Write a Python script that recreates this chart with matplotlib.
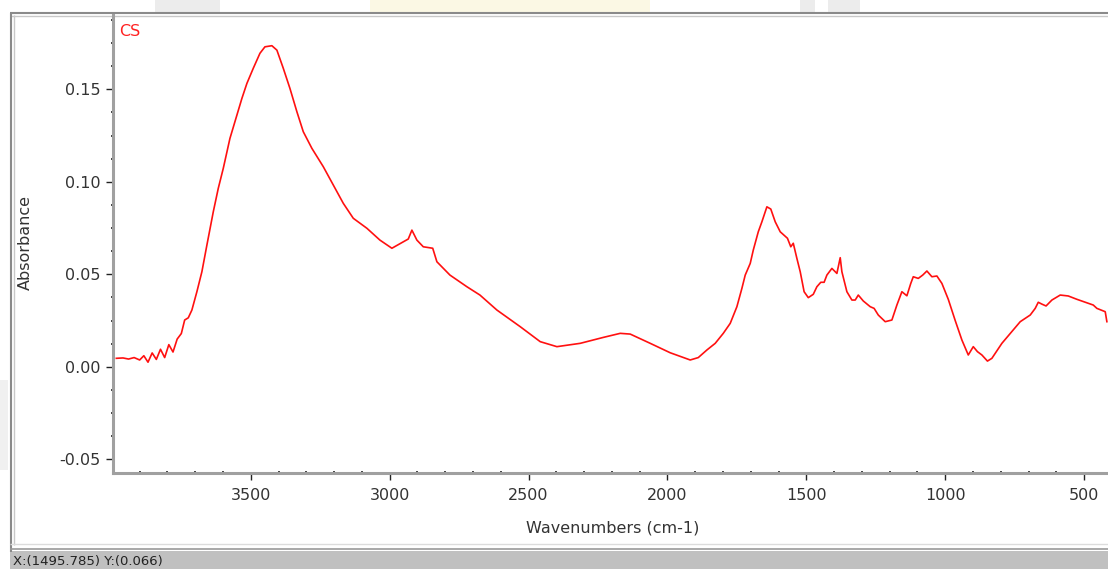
import matplotlib
matplotlib.use("Agg")
import matplotlib.pyplot as plt
from matplotlib.ticker import MultipleLocator, FormatStrFormatter
from matplotlib.patches import Rectangle

plt.rcParams['font.family'] = ['DejaVu Sans']

# ---- data ----
wavenumber = [3984, 3960, 3940, 3920, 3900, 3885, 3870, 3855, 3840, 3825, 3810,
              3795, 3780, 3765, 3750, 3738, 3725, 3712, 3694, 3676, 3658, 3635,
              3617, 3599, 3575, 3550, 3532, 3514, 3491, 3467, 3449, 3424, 3406,
              3383, 3359, 3334, 3311, 3280, 3239, 3203, 3167, 3131, 3082, 3035,
              2992, 2951, 2933, 2920, 2902, 2879, 2845, 2830, 2783, 2722, 2675,
              2614, 2530, 2458, 2398, 2314, 2231, 2170, 2134, 2062, 1990, 1918,
              1889, 1858, 1828, 1799, 1774, 1750, 1732, 1720, 1702, 1691, 1673,
              1660, 1642, 1628, 1612, 1594, 1568, 1556, 1547, 1534, 1522, 1508,
              1493, 1475, 1462, 1448, 1436, 1426, 1408, 1390, 1378, 1372, 1354,
              1336, 1324, 1313, 1295, 1270, 1256, 1241, 1216, 1192, 1174, 1156,
              1138, 1124, 1115, 1097, 1081, 1066, 1048, 1030, 1012, 989, 964,
              940, 917, 899, 884, 868, 848, 832, 796, 730, 694, 676, 665, 652,
              637, 616, 586, 557, 526, 490, 467, 454, 424, 418]
absorbance = [0.0046, 0.0048, 0.0042, 0.0050, 0.0037, 0.0060, 0.0025, 0.0075,
              0.0040, 0.0095, 0.0050, 0.0120, 0.0080, 0.0150, 0.0180, 0.0253,
              0.0265, 0.0307, 0.0406, 0.0514, 0.0658, 0.0838, 0.0965, 0.1073,
              0.1235, 0.1361, 0.1451, 0.1532, 0.1614, 0.1695, 0.1730, 0.1736,
              0.1712, 0.1614, 0.1505, 0.1379, 0.1271, 0.1181, 0.1082, 0.0983,
              0.0884, 0.0803, 0.0749, 0.0685, 0.0641, 0.0676, 0.0691, 0.0739,
              0.0685, 0.0649, 0.0641, 0.0568, 0.0496, 0.0433, 0.0388, 0.0307,
              0.0217, 0.0136, 0.0109, 0.0127, 0.0159, 0.0181, 0.0177, 0.0127,
              0.0076, 0.0037, 0.0050, 0.0091, 0.0127, 0.0181, 0.0235, 0.0325,
              0.0424, 0.0496, 0.0559, 0.0631, 0.0730, 0.0784, 0.0865, 0.0853,
              0.0784, 0.0730, 0.0695, 0.0649, 0.0668, 0.0586, 0.0514, 0.0406,
              0.0374, 0.0392, 0.0433, 0.0457, 0.0457, 0.0496, 0.0532, 0.0505,
              0.0590, 0.0514, 0.0406, 0.0361, 0.0361, 0.0388, 0.0356, 0.0325,
              0.0316, 0.0280, 0.0244, 0.0253, 0.0334, 0.0406, 0.0384, 0.0451,
              0.0487, 0.0478, 0.0496, 0.0518, 0.0487, 0.0491, 0.0451, 0.0365,
              0.0250, 0.0145, 0.0064, 0.0109, 0.0082, 0.0064, 0.0031, 0.0046,
              0.0127, 0.0244, 0.0280, 0.0316, 0.0349, 0.0339, 0.0329, 0.0361,
              0.0388, 0.0383, 0.0365, 0.0346, 0.0334, 0.0316, 0.0298, 0.0244]

sample_label = "CS"
x_label = "Wavenumbers (cm-1)"
y_label = "Absorbance"
status_text = "X:(1495.785) Y:(0.066)"

W, H = 1108, 569
fig = plt.figure(figsize=(W / 100, H / 100), dpi=100)

# background / window frame overlay in pixel coordinates
bg = fig.add_axes([0, 0, 1, 1], zorder=0)
bg.set_xlim(0, W)
bg.set_ylim(H, 0)
bg.axis('off')
for (x0, w, c) in [(155, 65, '#ececec'), (370, 280, '#fbf8e4'), (800, 15, '#ececec'), (828, 32, '#ececec')]:
    bg.add_patch(Rectangle((x0, 0), w, 12, color=c, lw=0))
bg.add_patch(Rectangle((0, 380), 8, 90, color='#f0f0f0', lw=0))
bg.plot([10, W], [13, 13], color='#8a8a8a', lw=1.5, solid_capstyle='butt')
bg.plot([10, W], [15.5, 15.5], color='#c8c8c8', lw=1.0, solid_capstyle='butt')
bg.plot([11, 11], [13, 552], color='#8a8a8a', lw=1.5, solid_capstyle='butt')
bg.plot([13.5, 13.5], [15, 545], color='#c8c8c8', lw=1.0, solid_capstyle='butt')
bg.plot([10, W], [544, 544], color='#dcdcdc', lw=1.0, solid_capstyle='butt')
bg.plot([10, W], [549, 549], color='#9a9a9a', lw=1.2, solid_capstyle='butt')
bg.add_patch(Rectangle((10, 551), W - 10, H - 551, color='#c0c0c0', lw=0))
bg.text(13, 561, status_text, fontsize=9.5, color='#222222', va='center', ha='left')

# main axes
left, right = 113 / W, 1.0
bottom, top = (H - 473) / H, (H - 15) / H
ax = fig.add_axes([left, bottom, right - left, top - bottom], zorder=1)
ax.set_facecolor('none')
ax.plot(wavenumber, absorbance, color='#ff1010', lw=1.2)

ax.set_xlim(3996, 414)
ax.set_ylim(-0.0574, 0.1902)

ax.xaxis.set_major_locator(MultipleLocator(500))
ax.xaxis.set_minor_locator(MultipleLocator(100))
ax.yaxis.set_major_locator(MultipleLocator(0.05))
ax.yaxis.set_minor_locator(MultipleLocator(0.0125))
ax.yaxis.set_major_formatter(FormatStrFormatter('%.2f'))
ax.xaxis.set_major_formatter(FormatStrFormatter('%d'))

for s in ['top', 'right']:
    ax.spines[s].set_visible(False)
for s in ['left', 'bottom']:
    ax.spines[s].set_color('#a0a0a0')
    ax.spines[s].set_linewidth(2.2)

ax.tick_params(which='major', direction='out', length=5, width=1.0, color='#222222',
               labelsize=11.5, labelcolor='#333333')
ax.tick_params(which='minor', direction='inout', length=2.5, width=1.2, color='#222222')
ax.tick_params(axis='x', which='major', pad=6)
ax.tick_params(axis='y', which='major', pad=4)

fig.text(25 / W, 1 - 243 / H, y_label, rotation=90, fontsize=11.5, color='#333333',
         ha='center', va='center')
fig.text(613 / W, 1 - 528 / H, x_label, fontsize=11.5, color='#333333',
         ha='center', va='center')
fig.text(119 / W, 1 - 32 / H, sample_label, fontsize=11.5, color='#ff2020',
         ha='left', va='center')

fig.savefig('out.png', dpi=100)
